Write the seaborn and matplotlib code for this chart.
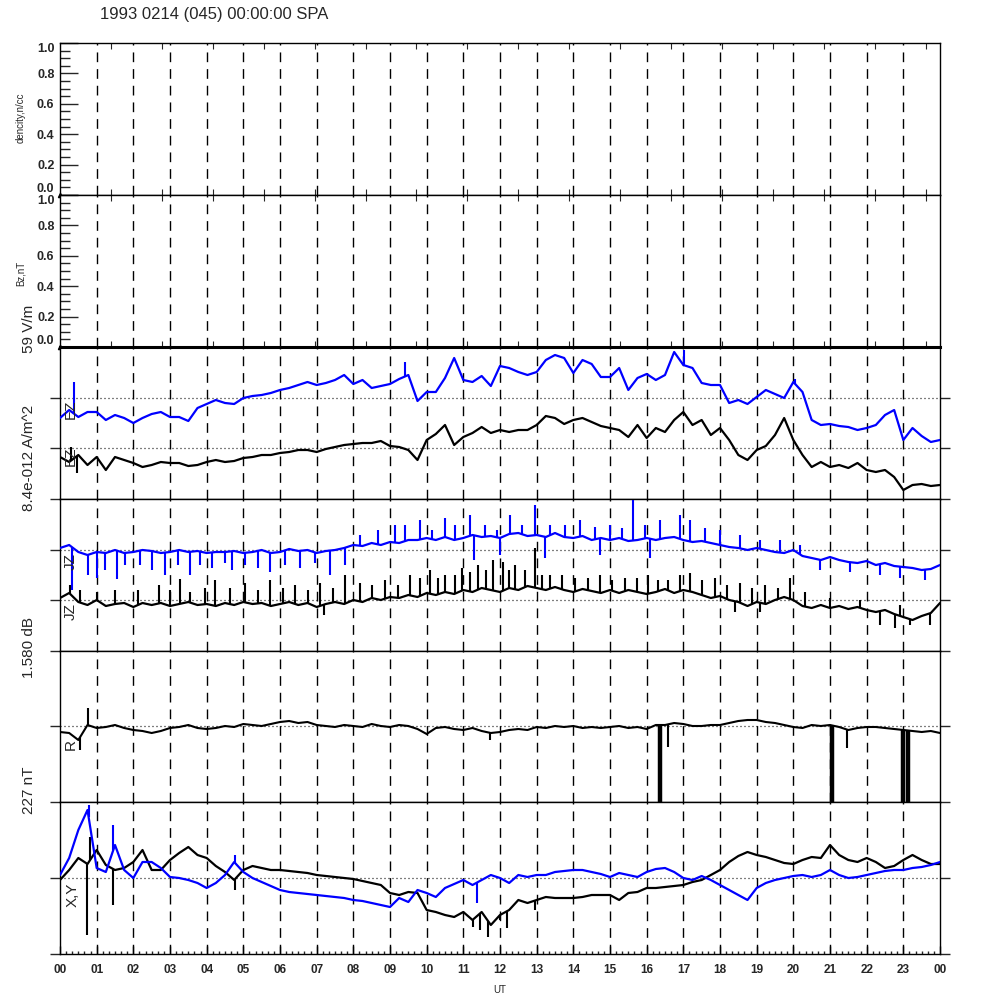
import numpy as np
import pandas as pd
import matplotlib
matplotlib.use('Agg')
import matplotlib.pyplot as plt
import seaborn as sns

# time grid (hours UT), one sample every 15 minutes
hours = np.arange(0, 24.01, 0.25)
hour_labels = ['%02d' % (h % 24) for h in range(25)]

# panel 3: electric field traces (offset units, panel 0..152)
e_blue = [81, 89, 82, 87, 87, 79, 84, 81, 76, 81, 85, 87, 82, 82, 78, 91,
          95, 99, 96, 95, 101, 103, 104, 106, 109, 111, 114, 117, 114, 116, 119, 124,
          115, 119, 111, 113, 115, 120, 124, 98, 107, 107, 121, 141, 119, 117, 123, 113,
          133, 131, 127, 124, 127, 139, 144, 141, 126, 139, 135, 122, 122, 131, 109, 121,
          125, 119, 124, 147, 134, 131, 116, 114, 114, 96, 99, 95, 102, 109, 105, 101,
          117, 107, 79, 74, 75, 73, 72, 69, 71, 74, 84, 89, 59, 71, 63, 57, 59]
e_black = [42, 37, 44, 34, 42, 29, 42, 39, 36, 32, 34, 37, 36, 36, 33, 34,
           37, 39, 37, 38, 41, 42, 44, 44, 46, 47, 49, 49, 47, 50, 52, 54,
           55, 56, 56, 58, 53, 52, 49, 39, 59, 65, 74, 54, 62, 66, 72, 66,
           69, 67, 69, 69, 74, 83, 81, 75, 79, 81, 77, 73, 71, 69, 62, 74,
           61, 71, 67, 79, 87, 74, 79, 64, 71, 59, 44, 39, 49, 53, 64, 81,
           59, 44, 32, 37, 32, 34, 31, 36, 29, 27, 29, 22, 9, 14, 15, 13, 14]
e_blue_spk_t = [0.38, 9.41, 17.02, 20.04]
e_blue_spk_v = [117, 137, 149, 120]
e_black_spk_t = [0.3, 0.45]
e_black_spk_v = [52, 26]

# panel 4: current density traces
j_blue = [103, 106, 99, 96, 99, 98, 101, 98, 99, 101, 100, 98, 99, 101, 99, 100,
          98, 99, 99, 100, 98, 99, 101, 98, 99, 102, 100, 101, 98, 100, 101, 103,
          106, 105, 108, 106, 109, 108, 111, 111, 113, 111, 114, 111, 113, 116, 114, 115,
          113, 117, 118, 115, 116, 114, 118, 114, 113, 115, 111, 113, 111, 113, 110, 111,
          113, 111, 113, 114, 111, 109, 110, 108, 106, 104, 103, 101, 103, 101, 99, 98,
          101, 95, 93, 91, 94, 91, 89, 88, 90, 86, 88, 85, 84, 83, 81, 82, 86]
j_black = [53, 58, 49, 46, 51, 45, 47, 48, 44, 48, 46, 48, 45, 47, 49, 46,
           47, 45, 48, 46, 49, 47, 48, 45, 47, 49, 46, 48, 44, 47, 49, 47,
           51, 49, 53, 51, 54, 53, 56, 54, 58, 56, 59, 57, 61, 59, 63, 61,
           59, 63, 61, 65, 63, 61, 64, 61, 59, 62, 60, 58, 61, 58, 61, 59,
           57, 59, 62, 58, 61, 59, 56, 53, 55, 51, 49, 45, 49, 47, 51, 54,
           51, 45, 43, 46, 43, 45, 42, 44, 41, 39, 41, 37, 34, 31, 35, 38, 48]
j_blue_spk_t = [0.33, 0.76, 1.01, 1.23, 1.55, 1.77, 2.18, 2.51, 2.86, 3.22, 3.55, 3.82,
                4.15, 4.5, 4.69, 5.05, 5.4, 5.73, 6.14, 6.55, 6.95, 7.36, 7.77,
                8.18, 8.67, 9.14, 9.41, 9.82, 10.14, 10.5, 10.77, 11.18, 11.59, 11.92,
                12.27, 12.6, 12.95, 13.36, 13.77, 14.18, 14.59, 15.0, 15.33, 15.63,
                15.95, 16.36, 16.91, 17.18, 17.59, 18.0, 18.54, 19.09, 19.63, 20.18,
                11.3, 12.0, 13.23, 14.73, 16.09, 20.73, 21.54, 22.36, 22.91, 23.59]
j_blue_spk_v = [61, 76, 73, 81, 72, 86, 86, 81, 76, 86, 76, 86,
                83, 88, 81, 86, 83, 79, 86, 83, 88, 76, 86,
                116, 121, 126, 126, 131, 121, 133, 126, 136, 126, 121,
                136, 126, 146, 126, 126, 131, 124, 126, 123, 151,
                126, 131, 136, 131, 123, 121, 116, 111, 111, 106,
                91, 96, 93, 96, 93, 81, 79, 76, 73, 71]
j_black_spk_t = [0.27, 0.55, 1.01, 1.5, 2.13, 2.7, 3.0, 3.27, 3.55, 3.95, 4.23, 4.64,
                 5.05, 5.4, 5.73, 6.08, 6.41, 6.76, 7.09, 7.45, 7.77, 8.18, 8.51, 8.86,
                 9.22, 9.54, 9.82, 10.09, 10.31, 10.5, 10.77, 10.96, 11.18, 11.4, 11.62,
                 11.81, 12.08, 12.24, 12.41, 12.68, 12.95, 13.14, 13.36, 13.69, 14.05,
                 14.4, 14.73, 15.05, 15.41, 15.74, 16.04, 16.31, 16.58, 16.91, 17.18,
                 17.51, 17.86, 18.19, 18.54, 18.87, 19.23, 19.58, 19.91, 20.32, 21.0,
                 21.82, 22.91, 7.2, 18.41, 19.1, 22.36, 22.77, 23.18, 23.73]
j_black_spk_v = [66, 61, 59, 61, 61, 66, 61, 72, 59, 63, 71, 63,
                 68, 61, 71, 63, 66, 61, 68, 63, 76, 68, 66, 71,
                 66, 76, 73, 81, 73, 76, 76, 83, 79, 86, 81,
                 91, 89, 81, 86, 81, 103, 76, 76, 76, 73,
                 73, 76, 71, 73, 73, 76, 71, 71, 76, 78,
                 71, 73, 66, 68, 63, 66, 63, 73, 59, 53,
                 51, 46, 36, 39, 39, 26, 23, 26, 26]

# panel 5: R
r_vals = [70, 69, 62, 77, 74, 75, 77, 74, 72, 71, 69, 71, 74, 75, 77, 74,
          73, 74, 76, 75, 78, 77, 76, 78, 80, 81, 79, 80, 77, 76, 75, 77,
          76, 75, 78, 76, 75, 77, 76, 73, 68, 74, 75, 73, 72, 74, 71, 69,
          70, 72, 73, 72, 75, 74, 76, 75, 76, 74, 75, 74, 75, 76, 74, 75,
          73, 77, 77, 79, 78, 76, 76, 77, 77, 79, 81, 82, 82, 80, 79, 77,
          75, 74, 77, 76, 77, 75, 72, 74, 75, 75, 74, 73, 72, 71, 70, 71, 69]
r_spk_t = [0.55, 0.76, 11.73, 16.36, 16.58, 21.05, 21.46, 22.99, 23.13]
r_spk_v = [52, 94, 62, 0, 55, 0, 54, 0, 0]

# panel 6: X (black) and Y (blue) magnetic field
x_vals = [74, 84, 96, 90, 104, 89, 84, 86, 92, 104, 84, 84, 94, 101, 107, 99,
          96, 88, 82, 74, 84, 88, 86, 84, 84, 83, 82, 81, 79, 78, 77, 76,
          75, 73, 71, 69, 61, 59, 62, 61, 44, 42, 39, 37, 42, 34, 42, 29,
          39, 44, 54, 51, 54, 57, 56, 56, 56, 57, 59, 59, 59, 54, 61, 62,
          66, 66, 67, 68, 69, 72, 74, 79, 84, 92, 98, 102, 99, 97, 94, 91,
          90, 94, 97, 96, 109, 99, 94, 92, 96, 92, 86, 88, 94, 99, 94, 90, 90]
y_vals = [79, 96, 124, 144, 86, 82, 109, 84, 76, 92, 92, 86, 77, 76, 74, 71,
          66, 71, 79, 92, 82, 76, 72, 68, 64, 62, 61, 60, 59, 58, 57, 56,
          54, 53, 51, 49, 47, 56, 52, 64, 61, 57, 66, 70, 74, 69, 74, 79,
          76, 71, 79, 77, 79, 79, 82, 83, 84, 84, 82, 80, 77, 81, 79, 77,
          82, 85, 86, 82, 76, 74, 78, 74, 69, 64, 59, 54, 66, 71, 74, 76,
          78, 79, 77, 79, 84, 79, 76, 77, 79, 81, 83, 84, 84, 86, 87, 89, 92]
x_spk_t = [0.74, 0.82, 1.45, 4.77, 11.26, 11.45, 11.67, 12.0, 12.19, 12.95]
x_spk_v = [19, 117, 49, 64, 27, 24, 17, 34, 26, 44]
y_spk_t = [0.78, 1.45, 4.77, 11.37]
y_spk_v = [149, 129, 99, 51]

sns.set_style('ticks')
plt.rcParams['font.family'] = ['Liberation Sans', 'DejaVu Sans']
plt.rcParams['axes.linewidth'] = 1.0

BLUE = '#0000ff'


def trace(ax, vals, color, spk_t=None, spk_v=None, lw=1.6):
    df = pd.DataFrame({'t': hours, 'val': vals})
    sns.lineplot(data=df, x='t', y='val', ax=ax, color=color, lw=lw,
                 estimator=None, legend=False, zorder=3)
    if spk_t:
        base = np.interp(spk_t, hours, vals)
        ax.vlines(spk_t, base, spk_v, color=color, lw=1.5, zorder=3)


fig = plt.figure(figsize=(10, 10), dpi=100)
boxes = [(0.805, 0.152), (0.653, 0.152), (0.501, 0.152),
         (0.349, 0.152), (0.198, 0.151), (0.046, 0.152)]
axes = [fig.add_axes([0.06, y0, 0.88, h]) for y0, h in boxes]

for ax in axes:
    ax.set_xlim(0, 24)
    for h in range(1, 24):
        ax.axvline(h, color='k', lw=1, ls=(0, (7, 5)), zorder=1)
    for s in ax.spines.values():
        s.set_color('k')

# empty top panels
sec_ticks = np.arange(5000, 86400, 5000) / 3600.0
for ax, lab, ylab in [(axes[0], 'dencity,n/cc', 0.882), (axes[1], 'Bz,nT', 0.727)]:
    ax.set_ylim(0, 1)
    ax.set_yticks(np.arange(0, 1.01, 0.2))
    ax.set_yticklabels(['%.1f' % v for v in np.arange(0, 1.01, 0.2)],
                       fontsize=9, fontweight='bold')
    labs = ax.get_yticklabels()
    labs[0].set_va('bottom')
    labs[-1].set_va('top')
    ax.set_yticks(np.arange(0, 1.001, 0.05), minor=True)
    ax.tick_params(axis='y', which='major', direction='in', length=13, width=1, pad=4)
    ax.tick_params(axis='y', which='minor', direction='in', length=7, width=1)
    ax.set_xticks(sec_ticks)
    ax.tick_params(axis='x', direction='in', length=4.5, top=True, bottom=True,
                   labelbottom=False)
    ax.plot([0], [0], marker='^', color='k', ms=3, clip_on=False)
    fig.text(0.021, ylab, lab, rotation=90, ha='center', va='center', fontsize=7)

panel_cfg = [
    (axes[2], 152, [0, 51, 101], [51, 101]),
    (axes[3], 152, [0, 51, 101], [51, 101]),
    (axes[4], 151, [0, 76], [76]),
    (axes[5], 152, [0, 76], [76]),
]
for ax, top, ticks, refs in panel_cfg:
    ax.set_ylim(0, top)
    ax.set_yticks(ticks)
    ax.tick_params(axis='y', direction='out', length=7.2, width=1,
                   left=True, right=True, labelleft=False)
    for r in refs:
        ax.axhline(r, color='k', lw=0.9, ls=(0, (0.8, 2.4)), zorder=2)
    if ax is not axes[5]:
        ax.set_xticks([])

axes[2].spines['top'].set_linewidth(2.2)

trace(axes[2], e_blue, BLUE, e_blue_spk_t, e_blue_spk_v)
trace(axes[2], e_black, 'k', e_black_spk_t, e_black_spk_v)
trace(axes[3], j_blue, BLUE, j_blue_spk_t, j_blue_spk_v)
trace(axes[3], j_black, 'k', j_black_spk_t, j_black_spk_v)
trace(axes[4], r_vals, 'k', lw=1.5)
r_base = np.interp(r_spk_t, hours, r_vals)
for t, b, v in zip(r_spk_t, r_base, r_spk_v):
    axes[4].vlines(t, b, v, color='k', lw=3.2 if v == 0 else 1.5, zorder=3)
trace(axes[5], x_vals, 'k', x_spk_t, x_spk_v)
trace(axes[5], y_vals, BLUE, y_spk_t, y_spk_v)

for ax in axes:
    ax.set_xlabel('')
    ax.set_ylabel('')

# in-panel trace labels
axes[2].text(0.3, 90, 'EZ', rotation=90, ha='center', va='center', fontsize=11)
axes[2].text(0.3, 43, 'EZ', rotation=90, ha='center', va='center', fontsize=11)
axes[3].text(0.3, 89, 'JZ', rotation=90, ha='center', va='center', fontsize=11)
axes[3].text(0.3, 39, 'JZ', rotation=90, ha='center', va='center', fontsize=11)
axes[4].text(0.3, 57, 'R', rotation=90, ha='center', va='center', fontsize=11)
axes[5].text(0.35, 59, 'X,Y', rotation=90, ha='center', va='center', fontsize=11)

# bottom time axis
ax = axes[5]
ax.set_xticks(range(25))
ax.set_xticklabels(hour_labels, fontsize=8.5, fontweight='bold')
ax.set_xticks(np.arange(0, 24.01, 1 / 6.0), minor=True)
ax.tick_params(axis='x', which='major', direction='in', length=6, width=1, pad=7)
ax.tick_params(axis='x', which='minor', direction='in', length=2.5, width=1)
fig.text(0.5, 0.01, 'UT', ha='center', va='center', fontsize=7)

# scale labels at left
for txt, yc in [('59 V/m', 0.671), ('8.4e-012 A/m^2', 0.542),
                ('1.580 dB', 0.352), ('227 nT', 0.21)]:
    fig.text(0.029, yc, txt, rotation=90, ha='center', va='center', fontsize=11)

fig.text(0.1, 0.985, '1993 0214 (045) 00:00:00 SPA', ha='left', va='center',
         fontsize=12)

fig.savefig('out.png', dpi=100)
